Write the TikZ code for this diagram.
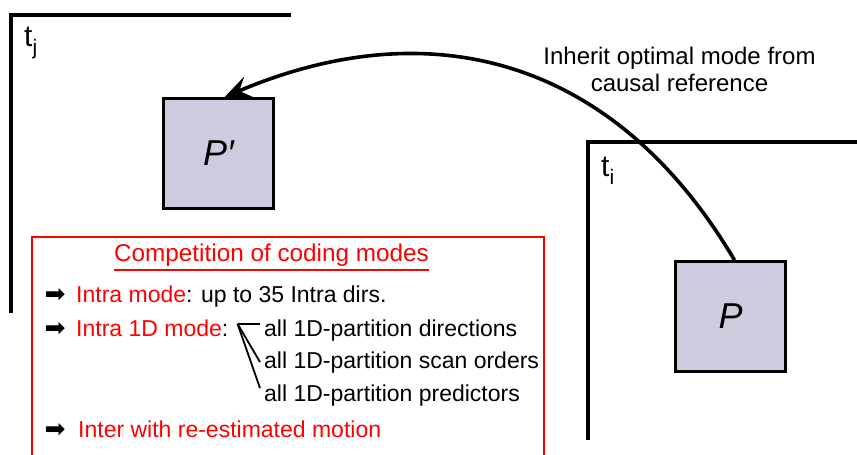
\documentclass[tikz,border=0pt]{standalone}
\usepackage{fontspec}
\setmainfont{Liberation Sans}
\newfontfamily\arrowfont{DejaVu Sans}
\usepackage{xcolor}
\usepackage{tikz}
\usetikzlibrary{arrows.meta, positioning, calc}
\definecolor{blockfill}{HTML}{CDCCDF}
\definecolor{modered}{HTML}{FF0000}
\newcommand{\tsub}[1]{\raisebox{-0.28em}{\fontsize{21}{21}\selectfont #1}}

\begin{document}
\begin{tikzpicture}[
  x=1pt, y=-1pt,
  font=\fontsize{23}{27}\selectfont,
  framebox/.style={draw=black, line width=3.4pt},
  block/.style={
    rectangle, draw=black, fill=blockfill, line width=2.8pt,
    minimum size=110pt, inner sep=0pt, font=\fontsize{36}{36}\selectfont\itshape
  },
  tlabel/.style={anchor=base west, inner sep=0pt, font=\fontsize{30}{30}\selectfont},
  modebox/.style={draw=modered, line width=2.2pt},
  rowtext/.style={anchor=base west, inner sep=0pt},
  subtext/.style={anchor=base west, inner xsep=4pt, inner ysep=0pt},
  bulletmark/.style={inner sep=0pt, font=\arrowfont\fontsize{25}{25}\selectfont},
  fork/.style={draw=black, line width=1.8pt},
  link/.style={-{Stealth[length=26pt, width=22pt, inset=10pt]}, draw=black, line width=3.6pt},
]
\useasboundingbox (0,0) rectangle (857,455);

% Frames t_j and t_i
\draw[framebox] (291,15) -- (11,15) -- (11,313);
\node[tlabel] (tj) at (24,46) {t\tsub{j}};
\draw[framebox] (857,142) -- (588,142) -- (588,440);
\node[tlabel] (ti) at (601,176) {t\tsub{i}};

% Blocks
\node[block] (Pp) at (218.5,153.5) {P\symbol{"2032}};
\node[block] (P) at (730.5,316.5) {P};

% Inherited mode
\draw[link] ([xshift=4pt]P.north) .. controls +(-122,-206) and +(202,-86) .. ([xshift=6pt]Pp.north);
\node[align=center, inner sep=0pt, font=\fontsize{24}{27}\selectfont] (inherit) at (679.5,69) {Inherit optimal mode from\\causal reference};

% Competition box
\draw[modebox] (544,456) -- (544,237) -- (32,237) -- (32,456);
\node[rowtext, anchor=base, text=modered, font=\fontsize{24.3}{27}\selectfont] (title) at (271.5,261) {Competition of coding modes};
\draw[modebox, line width=1.6pt] ([yshift=-4pt]title.south west) -- ([yshift=-4pt]title.south east);

\node[bulletmark] (b1) at (55,295) {➡};
\node[rowtext] (intra) at (76,302) {\textcolor{modered}{Intra mode}: up to 35 Intra dirs.};

\node[bulletmark] (b2) at (55,329) {➡};
\node[rowtext] (intraone) at (76,336) {\textcolor{modered}{Intra 1D mode}:};
\coordinate (split) at ($(intraone.east)+(9,-4)$);
\node[subtext] (dirs) at (260,336) {all 1D-partition directions};
\node[subtext] (scan) at (260,368) {all 1D-partition scan orders};
\node[subtext] (pred) at (260,401) {all 1D-partition predictors};
\draw[fork] (split) -- (dirs.west |- split);
\draw[fork] (split) -- (scan.west);
\draw[fork] (split) -- ([yshift=-4pt]pred.north west);

\node[bulletmark] (b3) at (55,430) {➡};
\node[rowtext, text=modered] (inter) at (78,437) {Inter with re-estimated motion};
\end{tikzpicture}
\end{document}
